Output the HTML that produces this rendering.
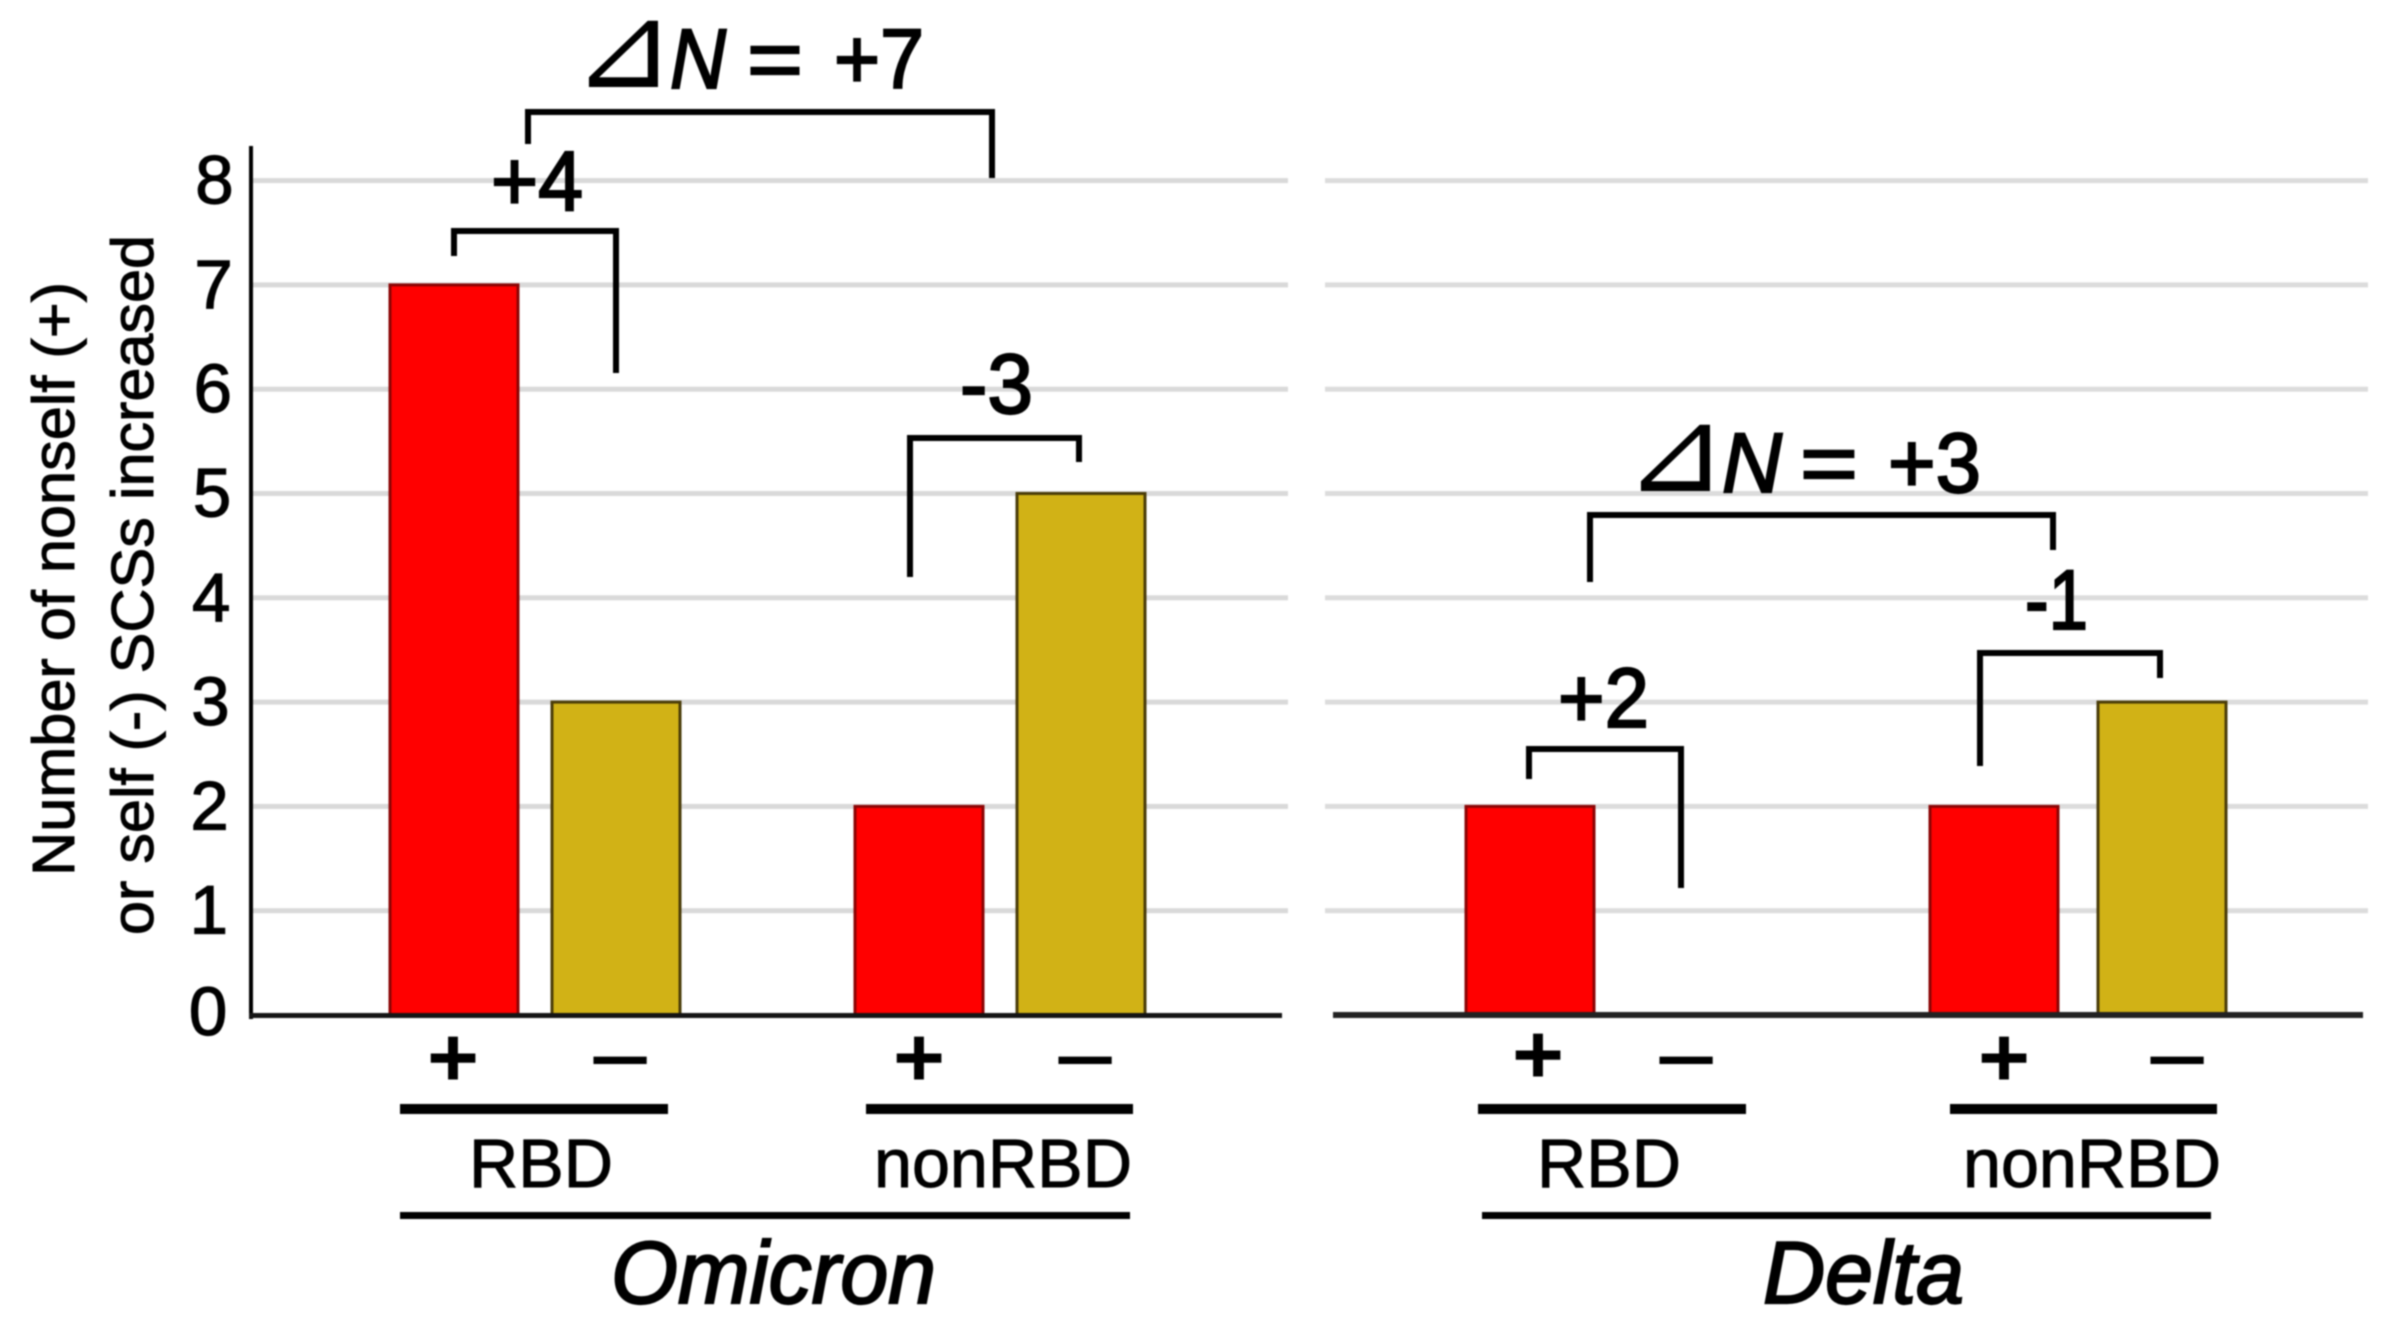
<!DOCTYPE html>
<html lang="en">
<head>
<meta charset="utf-8">
<title>Nonself and self SCS counts: Omicron vs Delta</title>
<style>
html,body{margin:0;padding:0;background:#fff;width:2403px;height:1328px;overflow:hidden}
svg{display:block;filter:blur(.8px)}
text{font-family:"Liberation Sans",Arial,sans-serif;fill:#000}
.ann{font-size:84px;stroke:#000;stroke-width:2.2px}
.br{fill:none;stroke:#000;stroke-width:6;stroke-linejoin:miter}
.lab{font-size:69px;stroke:#000;stroke-width:1px}
.sp{font-size:88px;font-style:italic;stroke:#000;stroke-width:2.2px}
.sign{font-size:84px;font-weight:bold}
.minus{font-size:68px;font-weight:bold}
.title{font-size:59px;stroke:#000;stroke-width:1px}
</style>
</head>
<body>
<svg id="chart" xmlns="http://www.w3.org/2000/svg" width="2403" height="1328" viewBox="0 0 2403 1328">
  <rect x="0" y="0" width="2403" height="1328" fill="#fff"/>
  <g id="grid"></g>
  <g id="bars"></g>
  <g id="axes"></g>
  <g id="ticks"></g>

  <g>
    <text class="title" transform="translate(74,876) rotate(-90)" textLength="594" lengthAdjust="spacingAndGlyphs">Number of nonself (+)</text>
    <text class="title" transform="translate(153,935) rotate(-90)" textLength="700" lengthAdjust="spacingAndGlyphs">or self (-) SCSs increased</text>
  </g>

  <g>
    <path class="br" d="M528 144V112H995M992 112V178"/>
    <path class="br" d="M454 256V231H619M616 231V373"/>
    <path class="br" d="M910 577V438H1082M1079 438V462"/>
    <text class="ann" x="572" y="87" style="font-family:'DejaVu Sans',sans-serif;font-size:118px;font-style:italic;stroke-width:0" textLength="103" lengthAdjust="spacingAndGlyphs">⊿</text>
    <text class="ann" x="670" y="88" style="font-style:italic" textLength="56" lengthAdjust="spacingAndGlyphs">N</text>
    <text class="ann" x="747" y="88" textLength="56" lengthAdjust="spacingAndGlyphs">=</text>
    <text class="ann" x="834" y="88" textLength="90" lengthAdjust="spacingAndGlyphs">+7</text>
    <text class="ann" x="491" y="210" textLength="92" lengthAdjust="spacingAndGlyphs">+4</text>
    <text class="ann" x="960" y="413" textLength="73" lengthAdjust="spacingAndGlyphs">-3</text>
  </g>

  <g>
    <path class="br" d="M1590 582V515H2056M2053 515V550"/>
    <path class="br" d="M1980 766V653H2163M2160 653V678"/>
    <path class="br" d="M1529 779V749H1684M1681 749V888"/>
    <text class="ann" x="1624" y="491" style="font-family:'DejaVu Sans',sans-serif;font-size:118px;font-style:italic;stroke-width:0" textLength="103" lengthAdjust="spacingAndGlyphs">⊿</text>
    <text class="ann" x="1722" y="492" style="font-style:italic" textLength="60" lengthAdjust="spacingAndGlyphs">N</text>
    <text class="ann" x="1800" y="492" textLength="58" lengthAdjust="spacingAndGlyphs">=</text>
    <text class="ann" x="1888" y="492" textLength="93" lengthAdjust="spacingAndGlyphs">+3</text>
    <text class="ann" x="2025" y="629" textLength="63" lengthAdjust="spacingAndGlyphs">-1</text>
    <text class="ann" x="1558" y="727" textLength="91" lengthAdjust="spacingAndGlyphs">+2</text>
  </g>

  <g>
    <text class="sign" x="427" y="1086" textLength="52" lengthAdjust="spacingAndGlyphs">+</text>
    <text class="minus" x="589" y="1083" textLength="62" lengthAdjust="spacingAndGlyphs">−</text>
    <text class="sign" x="893" y="1086" textLength="52" lengthAdjust="spacingAndGlyphs">+</text>
    <text class="minus" x="1054" y="1083" textLength="62" lengthAdjust="spacingAndGlyphs">−</text>
    <text class="sign" x="1512" y="1083" textLength="52" lengthAdjust="spacingAndGlyphs">+</text>
    <text class="minus" x="1655" y="1083" textLength="62" lengthAdjust="spacingAndGlyphs">−</text>
    <text class="sign" x="1978" y="1086" textLength="52" lengthAdjust="spacingAndGlyphs">+</text>
    <text class="minus" x="2146" y="1083" textLength="62" lengthAdjust="spacingAndGlyphs">−</text>

    <rect x="400" y="1104" width="268" height="10" fill="#000"/>
    <rect x="866" y="1104" width="267" height="10" fill="#000"/>
    <rect x="1478" y="1104" width="268" height="10" fill="#000"/>
    <rect x="1950" y="1104" width="267" height="10" fill="#000"/>

    <text class="lab" x="469" y="1187" textLength="144" lengthAdjust="spacingAndGlyphs">RBD</text>
    <text class="lab" x="874" y="1187" textLength="258" lengthAdjust="spacingAndGlyphs">nonRBD</text>
    <text class="lab" x="1537" y="1187" textLength="144" lengthAdjust="spacingAndGlyphs">RBD</text>
    <text class="lab" x="1963" y="1187" textLength="258" lengthAdjust="spacingAndGlyphs">nonRBD</text>

    <rect x="400" y="1212" width="730" height="7" fill="#000"/>
    <rect x="1482" y="1212" width="729" height="7" fill="#000"/>

    <text class="sp" x="611" y="1303" textLength="325" lengthAdjust="spacingAndGlyphs">Omicron</text>
    <text class="sp" x="1763" y="1303" textLength="201" lengthAdjust="spacingAndGlyphs">Delta</text>
  </g>
</svg>

<script>
// Chart data
const yTickLabels = ["0", "1", "2", "3", "4", "5", "6", "7", "8"];
const gridValues = [1, 2, 3, 4, 5, 6, 7, 8];
const signCategories = ["plus", "minus"];
const regionCategories = ["rbd", "nonrbd"];
const omicronRbd = [7, 3];
const omicronNonRbd = [2, 5];
const deltaRbd = [2, 0];
const deltaNonRbd = [2, 3];

// Axis functions
const SVG_NS = "http://www.w3.org/2000/svg";
const BASE_Y = 1015;
const UNIT_Y = 104.3;
const BAR_W = 128;
function yScale(v) { return BASE_Y - UNIT_Y * v; }
function xOmicron(region, sign) { return 390 + 465 * region + 162 * sign; }
function xDelta(region, sign) { return 1466 + 464 * region + 168 * sign; }

function make(tag, attrs, parent) {
  const el = document.createElementNS(SVG_NS, tag);
  for (const k in attrs) el.setAttribute(k, attrs[k]);
  parent.appendChild(el);
  return el;
}

const gridGroup = document.getElementById("grid");
const barGroup = document.getElementById("bars");
const axesGroup = document.getElementById("axes");
const tickGroup = document.getElementById("ticks");

gridValues.forEach(function (v) {
  const left = make("rect", { x: 251, y: yScale(v) - 2.5, width: 1037, height: 5, fill: "#d9d9d9" }, gridGroup);
  
  
  const right = make("rect", { x: 1325, y: yScale(v) - 2.5, width: 1043, height: 5, fill: "#dcdcdc" }, gridGroup);
  
  
});

function drawBars(panel, xFn, regionIndex, values) {
  values.forEach(function (v, s) {
    const top = yScale(v);
    const isPlus = s === 0;
    const bar = make("rect", {
      x: xFn(regionIndex, s),
      y: top,
      width: BAR_W,
      height: BASE_Y - top,
      fill: isPlus ? "#ff0000" : "#d1b216",
      stroke: isPlus ? "#8c0505" : "#4a3c08",
      "stroke-width": 3
    }, barGroup);
    
    
  });
}
drawBars("omicron", xOmicron, 0, omicronRbd);
drawBars("omicron", xOmicron, 1, omicronNonRbd);
drawBars("delta", xDelta, 0, deltaRbd);
drawBars("delta", xDelta, 1, deltaNonRbd);

const yAxisLine = make("rect", { x: 249, y: 146, width: 4, height: 873, fill: "#000" }, axesGroup);


const baselineLeft = make("rect", { x: 249, y: BASE_Y - 2, width: 1033, height: 5, fill: "#141414" }, axesGroup);


const baselineRight = make("rect", { x: 1333, y: BASE_Y - 3, width: 1030, height: 6, fill: "#222" }, axesGroup);



yTickLabels.forEach(function (label, i) {
  const t = make("text", {
    x: 208 + i * 0.8,
    y: yScale(i) + (i === 0 ? 20 : 23),
    "text-anchor": "middle",
    "font-size": 69,
    stroke: "#000",
    "stroke-width": 1.2
  }, tickGroup);
  t.textContent = label;
  
  
});
</script>
</body>
</html>
